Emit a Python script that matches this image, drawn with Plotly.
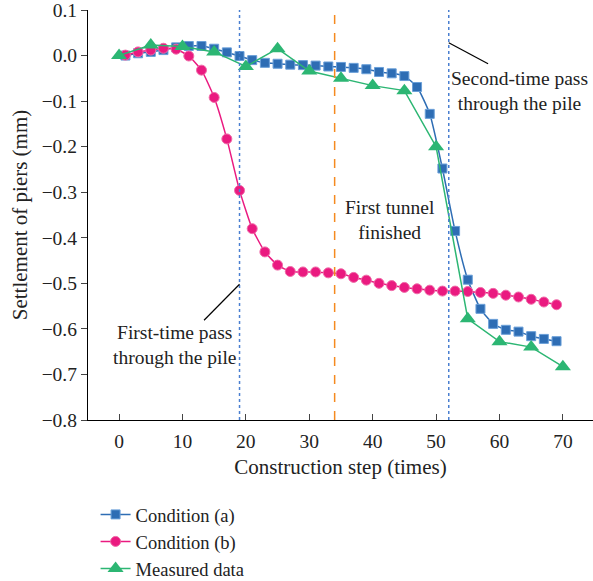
import plotly.graph_objects as go

# Condition (a)
xa = list(range(1, 70, 2))
ya = [0.0, 0.005, 0.008, 0.012, 0.018, 0.021, 0.021, 0.015, 0.007, -0.001,
      -0.010, -0.016, -0.018, -0.020, -0.021, -0.022, -0.024, -0.025, -0.027, -0.030,
      -0.036, -0.039, -0.045, -0.069, -0.128, -0.248, -0.385, -0.492, -0.556, -0.589,
      -0.602, -0.606, -0.616, -0.622, -0.627]
# Condition (b)
xb = list(range(1, 70, 2))
yb = [0.001, 0.008, 0.012, 0.016, 0.014, -0.001, -0.032, -0.092, -0.183, -0.296,
      -0.380, -0.431, -0.460, -0.474, -0.475, -0.475, -0.477, -0.479, -0.487, -0.493,
      -0.500, -0.505, -0.509, -0.512, -0.515, -0.517, -0.517, -0.518, -0.520, -0.522,
      -0.526, -0.530, -0.535, -0.541, -0.547]
# Measured data
xm = list(range(0, 71, 5))
ym = [0.0, 0.023, 0.020, 0.008, -0.024, 0.015, -0.034, -0.050, -0.066, -0.077,
      -0.200, -0.578, -0.628, -0.640, -0.683]

x_ticks = [0, 10, 20, 30, 40, 50, 60, 70]
y_ticks = [0.1, 0.0, -0.1, -0.2, -0.3, -0.4, -0.5, -0.6, -0.7, -0.8]
pass_lines = [19, 52]
finish_line = 34

BLUE = "#2e6db4"
PINK = "#ea1a80"
GREEN = "#2cb673"
ORANGE = "#f58a1f"
FONT = "Liberation Serif"
TXT = "#222222"

fig = go.Figure()
fig.add_trace(go.Scatter(x=xa, y=ya, name="Condition (a)", mode="lines+markers",
                         line=dict(color=BLUE, width=1.5, shape="spline", smoothing=0.5),
                         marker=dict(symbol="square", size=9, color=BLUE,
                                     line=dict(color="#6a9fd8", width=1))))
fig.add_trace(go.Scatter(x=xb, y=yb, name="Condition (b)", mode="lines+markers",
                         line=dict(color=PINK, width=1.5, shape="spline", smoothing=0.5),
                         marker=dict(symbol="circle", size=10, color=PINK,
                                     line=dict(color="#f06aa8", width=1))))
fig.add_trace(go.Scatter(x=xm, y=ym, name="Measured data", mode="lines+markers",
                         line=dict(color=GREEN, width=1.5),
                         marker=dict(symbol="triangle-up", size=14, color=GREEN)))

for xv in pass_lines:
    fig.add_shape(type="line", x0=xv, x1=xv, y0=-0.8, y1=0.1, xref="x", yref="y",
                  line=dict(color="#4a7fd0", width=1.5, dash="dot"))
fig.add_shape(type="line", x0=finish_line, x1=finish_line, y0=-0.8, y1=0.1, xref="x", yref="y",
              line=dict(color=ORANGE, width=1.5, dash="dash"))

# pointer lines
fig.add_shape(type="line", x0=19.0, y0=-0.502, x1=13.4, y1=-0.581, xref="x", yref="y",
              line=dict(color="black", width=1.2))
fig.add_shape(type="line", x0=52.0, y0=0.028, x1=58.2, y1=-0.018, xref="x", yref="y",
              line=dict(color="black", width=1.2))

ann_font = dict(family=FONT, size=19.5, color=TXT)
fig.add_annotation(x=8.8, y=-0.636, text="First-time pass<br>through the pile", showarrow=False,
                   xref="x", yref="y", font=ann_font, align="center")
fig.add_annotation(x=63.2, y=-0.078, text="Second-time pass<br>through the pile", showarrow=False,
                   xref="x", yref="y", font=ann_font, align="center")
fig.add_annotation(x=42.7, y=-0.36, text="First tunnel<br>finished", showarrow=False,
                   xref="x", yref="y", font=ann_font, align="center")

fig.update_layout(
    width=593, height=581,
    margin=dict(l=88, r=0, t=10, b=161, autoexpand=False),
    plot_bgcolor="white", paper_bgcolor="white",
    font=dict(family=FONT, size=19, color=TXT),
    showlegend=True,
    legend=dict(x=0.015, y=-0.185, xanchor="left", yanchor="top",
                font=dict(size=18.5, family=FONT, color=TXT),
                bgcolor="rgba(0,0,0,0)", tracegroupgap=0),
    xaxis=dict(range=[-4.9, 74.75], tickvals=x_ticks, ticks="inside", ticklen=6,
               ticklabelstandoff=3, ticklabeloverflow="allow",
               showline=True, linecolor="black", linewidth=1.2, showgrid=False, zeroline=False,
               title=dict(text="Construction step (times)", font=dict(size=21), standoff=8),
               tickfont=dict(size=19.5)),
    yaxis=dict(range=[-0.8, 0.1], tickvals=y_ticks,
               ticktext=[("\u2212" if v < 0 else "") + f"{abs(v):.1f}" for v in y_ticks],
               ticks="outside", ticklen=6, ticklabeloverflow="allow",
               showline=True, linecolor="black", linewidth=1.2, showgrid=False, zeroline=False,
               title=dict(text="Settlement of piers (mm)", font=dict(size=21), standoff=8),
               tickfont=dict(size=19.5)),
)

fig.write_html("out.html")
